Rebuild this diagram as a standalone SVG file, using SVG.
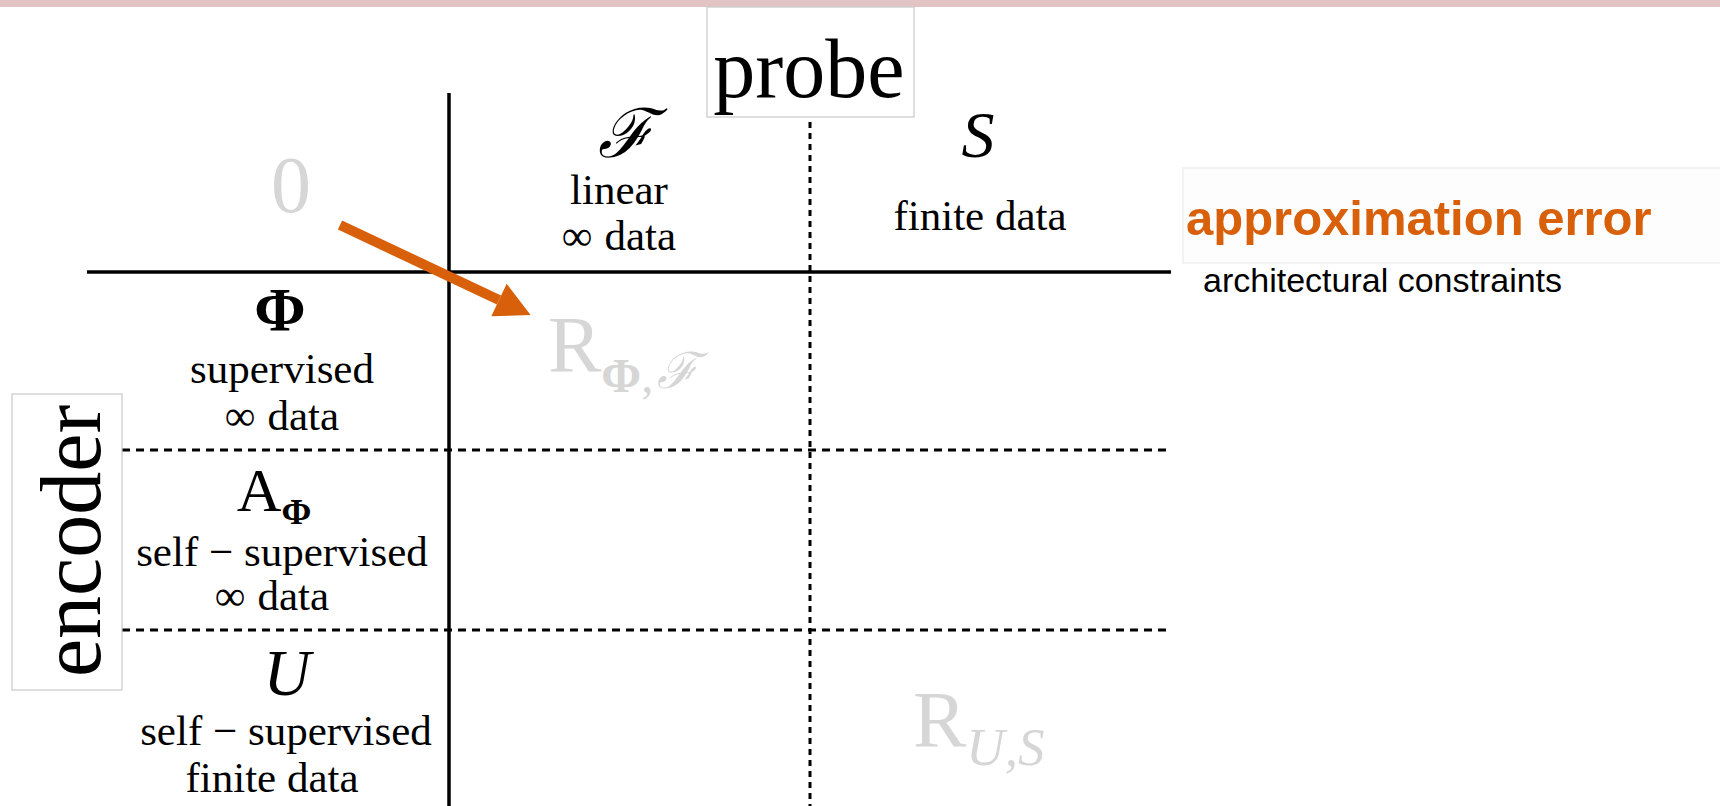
<svg xmlns="http://www.w3.org/2000/svg" width="1720" height="806" viewBox="0 0 1720 806">
  <style>
    .serif { font-family: "Liberation Serif", "Times New Roman", serif; fill: #000; }
    .sans { font-family: "Liberation Sans", Arial, sans-serif; }
    .lbl { font-size: 43px; text-anchor: middle; }
    .sym { text-anchor: middle; }
    .faint { fill: #d6d6d6; }
    .frame { fill: #ffffff; stroke: #c9c9c9; stroke-width: 1.2; }
    .solid { stroke: #000; stroke-width: 3.5; fill: none; }
    .dashH { stroke: #000; stroke-width: 3; stroke-dasharray: 8 6; fill: none; }
    .dashV { stroke: #000; stroke-width: 3; stroke-dasharray: 6 5; fill: none; }
    .script { font-family: "DejaVu Serif", "Liberation Serif", serif; font-style: italic; }
  </style>
  <defs>
    <marker id="head" markerUnits="userSpaceOnUse" markerWidth="36" markerHeight="36" viewBox="0 0 33 34" refX="0" refY="17" orient="auto">
      <path d="M0,0 L33,17 L0,34 Z" fill="#d8600a"/>
    </marker>
  </defs>

  <!-- top band -->
  <rect x="0" y="0" width="1720" height="7" fill="#e3c4c5"/>

  <!-- grid -->
  <g id="grid">
    <line class="solid" x1="449" y1="93" x2="449" y2="806"/>
    <line class="solid" x1="87" y1="272" x2="1171" y2="272"/>
    <line class="dashV" x1="810" y1="122" x2="810" y2="806"/>
    <line class="dashH" x1="122" y1="450" x2="1172" y2="450"/>
    <line class="dashH" x1="122" y1="630" x2="1172" y2="630"/>
  </g>

  <!-- axis titles -->
  <g id="probe">
    <rect class="frame" x="707" y="7" width="207" height="110"/>
    <text class="serif sym" x="809" y="97" font-size="84">probe</text>
  </g>
  <g id="encoder">
    <rect class="frame" x="12" y="394" width="110" height="296"/>
    <text class="serif sym" font-size="86" transform="translate(100 541) rotate(-90)">encoder</text>
  </g>

  <!-- column headers -->
  <g id="col-F">
    <text class="script sym" x="626" y="157" font-size="68">ℱ</text>
    <text class="serif lbl" x="619" y="204">linear</text>
    <text class="serif lbl" x="619" y="250">∞<tspan dx="12">data</tspan></text>
  </g>
  <g id="col-S">
    <text class="serif sym" x="978" y="157" font-size="66" font-style="italic">S</text>
    <text class="serif lbl" x="980" y="230">finite data</text>
  </g>

  <!-- row headers -->
  <g id="row-0">
    <text class="serif sym faint" x="291" y="212" font-size="80">0</text>
  </g>
  <g id="row-Phi">
    <text class="serif sym" x="280" y="330" font-size="62" font-weight="bold">Φ</text>
    <text class="serif lbl" x="282" y="383">supervised</text>
    <text class="serif lbl" x="282" y="430">∞<tspan dx="12">data</tspan></text>
  </g>
  <g id="row-APhi">
    <text class="serif sym" x="274" y="511" font-size="62">A<tspan font-size="36" font-weight="bold" dy="13">Φ</tspan></text>
    <text class="serif lbl" x="282" y="566">self − supervised</text>
    <text class="serif lbl" x="272" y="610">∞<tspan dx="12">data</tspan></text>
  </g>
  <g id="row-U">
    <text class="serif sym" x="287" y="695" font-size="65" font-style="italic">U</text>
    <text class="serif lbl" x="286" y="745">self − supervised</text>
    <text class="serif lbl" x="272" y="792">finite data</text>
  </g>

  <!-- cell risks -->
  <g id="risk-PhiF">
    <text class="serif faint" x="548" y="372" font-size="80">R<tspan font-size="48" font-weight="bold" dy="20">Φ</tspan><tspan font-size="48" dy="0">,</tspan><tspan class="script" font-size="50" dx="4" dy="-4">ℱ</tspan></text>
  </g>
  <g id="risk-US">
    <text class="serif faint" x="913" y="747" font-size="80">R<tspan font-size="53" font-style="italic" dy="18">U,S</tspan></text>
  </g>

  <!-- legend -->
  <g id="legend">
    <rect x="1183" y="168" width="545" height="95" fill="#fdfdfd" stroke="#ececec" stroke-width="1.2"/>
    <text class="sans" x="1186" y="235" font-size="49" font-weight="bold" fill="#d8600a">approximation error</text>
    <text class="sans" x="1203" y="292" font-size="34" fill="#000">architectural constraints</text>
  </g>

  <!-- connectors -->
  <g id="connectors">
    <line x1="340" y1="225" x2="499" y2="300" stroke="#d8600a" stroke-width="10" marker-end="url(#head)"/>
  </g>
</svg>
